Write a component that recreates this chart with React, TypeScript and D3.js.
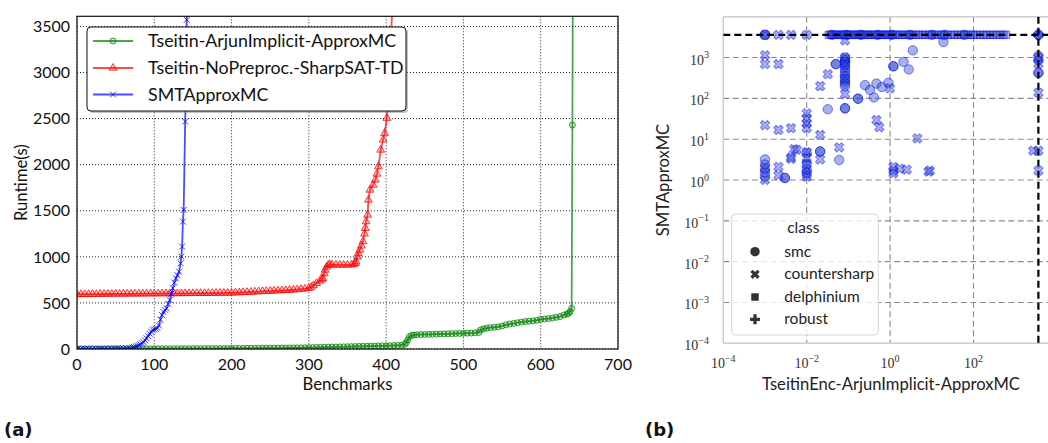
import React from 'react';
import * as d3 from 'd3';

const W = 1048;
const H = 443;
const SANS = "Lato, 'Open Sans', 'DejaVu Sans', sans-serif";
const SERIF = "'Liberation Serif', 'DejaVu Serif', serif";

// ---------- (a) cactus plot: sorted runtimes per benchmark ----------
const seriesNames = [
  'Tseitin-ArjunImplicit-ApproxMC',
  'Tseitin-NoPreproc.-SharpSAT-TD',
  'SMTApproxMC',
];

// [benchmark index, runtime in seconds]
const arjunRuns: [number, number][] = [
  [0, 0.8], [5, 0.9], [10, 1], [15, 1], [20, 1.1], [25, 1.2], [30, 1.3], [35, 1.4], [40, 1.5], [45, 1.6],
  [50, 1.7], [55, 1.8], [60, 1.9], [65, 2], [70, 2.1], [75, 2.2], [80, 2.3], [85, 2.4], [90, 2.5], [95, 2.6],
  [100, 2.7], [105, 2.8], [110, 2.9], [115, 3], [120, 3.1], [125, 3.2], [130, 3.3], [135, 3.4], [140, 3.5],
  [145, 3.6], [150, 3.8], [155, 4], [160, 4.2], [165, 4.4], [170, 4.6], [175, 4.8], [180, 5], [185, 5.2],
  [190, 5.4], [195, 5.6], [200, 5.8], [205, 6], [210, 6.3], [215, 6.6], [220, 7], [225, 7.3], [230, 7.6],
  [235, 8], [240, 8.4], [245, 8.8], [250, 9.2], [255, 9.6], [260, 10], [265, 10.5], [270, 11], [275, 11.5],
  [280, 12], [285, 12.5], [290, 13], [295, 14], [300, 15], [305, 16], [310, 17], [315, 18], [320, 19],
  [325, 20], [330, 21], [335, 22], [340, 23], [345, 24], [350, 25], [355, 26], [360, 27], [365, 28],
  [370, 29], [375, 30], [380, 31], [385, 32], [390, 33], [395, 34], [400, 35], [405, 36], [410, 38],
  [415, 39], [420, 41], [424, 50], [426, 70], [428, 100], [430, 134], [433, 148], [436, 152], [440, 155],
  [445, 157], [450, 158], [455, 159], [460, 160], [465, 162], [470, 163], [475, 164], [480, 165], [485, 166],
  [490, 168], [495, 169], [500, 170], [505, 172], [510, 173], [515, 175], [520, 180], [522, 206], [526, 218],
  [530, 226], [535, 232], [540, 236], [545, 240], [550, 250], [555, 262], [560, 271], [565, 278], [570, 285],
  [575, 292], [580, 298], [585, 302], [590, 305], [595, 312], [600, 322], [605, 326], [610, 330], [615, 337],
  [620, 344], [625, 352], [630, 369], [634, 378], [636, 387], [638, 405], [640, 441], [641, 2430], [642, 5000],
];

const sharpTdRuns: [number, number][] = [
  [0, 592], [5, 593], [10, 594], [15, 594], [20, 595], [25, 595], [30, 596], [35, 596], [40, 597], [45, 597],
  [50, 598], [55, 598], [60, 598], [65, 599], [70, 599], [75, 599], [80, 600], [85, 600], [90, 600], [95, 601],
  [100, 601], [105, 601], [110, 602], [115, 602], [120, 602], [125, 603], [130, 603], [135, 603], [140, 604],
  [145, 604], [150, 604], [155, 605], [160, 605], [165, 605], [170, 606], [175, 606], [180, 607], [185, 607],
  [190, 608], [195, 608], [200, 609], [205, 611], [210, 613], [215, 615], [220, 617], [225, 619], [230, 621],
  [235, 623], [240, 625], [245, 627], [250, 629], [255, 631], [260, 633], [265, 635], [270, 637], [275, 640],
  [280, 643], [285, 646], [290, 650], [295, 654], [300, 659], [303, 672], [306, 690], [310, 713], [314, 738],
  [317, 752], [318, 767], [320, 820], [321, 858], [323, 890], [325, 910], [327, 920], [330, 915], [335, 912],
  [340, 912], [345, 913], [350, 913], [355, 914], [358, 918], [360, 930], [361, 948], [363, 1000], [364, 1040],
  [366, 1075], [368, 1120], [370, 1166], [372, 1250], [373, 1310], [374, 1383], [376, 1455], [377, 1618],
  [379, 1726], [383, 1780], [386, 1835], [388, 1900], [390, 1980], [393, 2160], [396, 2270], [398, 2342],
  [401, 2505], [408, 3700],
];

const smtRuns: [number, number][] = [
  [0, 1], [4, 1], [8, 1.2], [12, 1.4], [16, 1.6], [20, 1.8], [24, 2], [28, 2.2], [32, 2.6], [36, 3],
  [40, 3.4], [44, 3.9], [48, 4.5], [52, 5.2], [56, 6], [60, 7], [64, 8.5], [68, 10], [72, 15], [74, 20],
  [76, 25], [78, 32], [80, 40], [82, 50], [84, 62], [86, 75], [88, 95], [90, 116], [92, 140], [94, 165],
  [96, 188], [98, 205], [100, 212], [102, 220], [104, 228], [106, 255], [108, 320], [110, 370], [112, 400],
  [114, 425], [116, 441], [118, 490], [120, 532], [122, 600], [124, 659], [126, 720], [128, 767], [130, 800],
  [132, 839], [134, 930], [135, 1002], [136, 1111], [137, 1382], [138, 1509], [140, 2468], [142, 3572],
  [143, 5000],
];

const runtimeTicks = [0, 500, 1000, 1500, 2000, 2500, 3000, 3500];
const benchTicks = [0, 100, 200, 300, 400, 500, 600, 700];

// ---------- (b) per-instance scatter, log-log ----------
const TIMEOUT = 3600;

// [TseitinEnc-ArjunImplicit-ApproxMC runtime, SMTApproxMC runtime]
const smcPoints: [number, number][] = [
  [0.001, 3600], [0.001, 3600], [0.001, 3.2], [0.001, 2.4], [0.001, 1.8], [0.001, 1.5], [0.001, 1.2],
  [0.003, 1.12], [0.003, 1.12],
  [0.01, 4.6], [0.01, 2.5], [0.01, 1.8], [0.01, 1.5],
  [0.021, 5.0], [0.021, 5.0],
  [0.032, 54], [0.06, 3.1], [0.05, 690], [0.05, 690],
  [0.083, 1000], [0.083, 870], [0.083, 780], [0.083, 780], [0.083, 650], [0.083, 560], [0.083, 480],
  [0.083, 410], [0.083, 350], [0.083, 300], [0.083, 260], [0.083, 225], [0.083, 200],
  [0.083, 57], [0.083, 57], [0.17, 98], [0.17, 98],
  [0.25, 210], [0.33, 160], [0.41, 105], [0.47, 230], [0.63, 190], [0.91, 240],
  [1.2, 610], [1.2, 610], [2.1, 780], [2.8, 510], [3.5, 1500], [19, 2400],
  [0.04, 3600], [0.09, 3600], [0.2, 3600], [0.5, 3600], [1.1, 3600], [3, 3600], [10, 3600], [20, 3600],
  [60, 3600],
  [3600, 3600], [3600, 3600], [3600, 1100], [3600, 850], [3600, 420], [3600, 420],
];

const countersharpPoints: [number, number][] = [
  [0.001, 3600], [0.001, 1137], [0.001, 690], [0.001, 22], [0.001, 2.0], [0.001, 1.0],
  [0.0021, 3600], [0.0021, 690], [0.0021, 16.8], [0.0021, 2.1], [0.0021, 1.3],
  [0.0042, 3600], [0.0042, 18.6], [0.0042, 3.6], [0.0042, 3.3], [0.005, 5.7], [0.0058, 5.5],
  [0.01, 3600], [0.01, 43], [0.01, 32], [0.01, 24.5], [0.01, 18.6], [0.01, 4.8], [0.01, 3.5], [0.01, 2.4],
  [0.01, 1.4], [0.01, 1.2],
  [0.021, 200], [0.021, 12.7], [0.021, 3.2], [0.032, 390], [0.06, 6.3],
  [0.083, 2640], [0.083, 127], [0.083, 1000], [0.083, 700], [0.083, 300],
  [0.47, 29.5], [0.55, 19.6], [0.99, 175], [4.5, 10.5],
  [1.2, 2.1], [1.2, 1.45], [1.2, 1.7], [1.7, 1.9], [2.5, 1.8], [8.3, 1.6], [9, 1.7],
  [2700, 5.2], [3600, 5.2], [3600, 1.7], [3600, 137], [3600, 1000], [3600, 700],
];

const delphiniumRuntimes = [
  0.034, 0.038, 0.042, 0.047, 0.052, 0.058, 0.064, 0.07, 0.078, 0.086, 0.095, 0.105, 0.115, 0.13, 0.145,
  0.16, 0.18, 0.2, 0.22, 0.25, 0.28, 0.31, 0.35, 0.39, 0.44, 0.5, 0.56, 0.63, 0.7, 0.8, 0.9, 1.0, 1.15,
  1.3, 1.5, 1.7, 2.0, 2.3, 2.7, 3.1, 3.6, 4.2, 5, 6, 7, 8.5, 10, 12, 14, 17, 20, 24, 29, 35, 42, 50, 60,
  72, 86, 100, 120, 145, 175, 210, 250, 300, 360, 430, 520, 600,
];
const delphiniumPoints: [number, number][] = delphiniumRuntimes.map((r) => [r, TIMEOUT]);

const robustPoints: [number, number][] = [[3600, 3600]];

const classNames = ['smc', 'countersharp', 'delphinium', 'robust'];
const yDecades = [-4, -3, -2, -1, 0, 1, 2, 3];
const xDecades = [-4, -2, 0, 2];

// ---------- marker shapes ----------
const circleSmall = d3.symbol(d3.symbolCircle, 28)() as string;
const triangleSmall = d3.symbol(d3.symbolTriangle, 26)() as string;
const xSmall = 'M-3,-3L3,3M-3,3L3,-3';

const circleBig = d3.symbol(d3.symbolCircle, 70)() as string;
const crossBig = d3.symbol(d3.symbolCross, 54)() as string;
const squareBig = d3.symbol(d3.symbolSquare, 56)() as string;

type Series = { name: string; data: [number, number][]; color: string; marker: string; stroked: boolean };

function CactusPanel() {
  const left = 77, right = 618, top = 16.3, bottom = 349;
  const x = d3.scaleLinear().domain([0, 700]).range([left, right]);
  const y = d3.scaleLinear().domain([0, 3610]).range([bottom, top]);
  const line = d3.line<[number, number]>().x((d) => x(d[0])).y((d) => y(d[1]));

  const series: Series[] = [
    { name: seriesNames[0], data: arjunRuns, color: 'rgb(0,128,0)', marker: circleSmall, stroked: false },
    { name: seriesNames[1], data: sharpTdRuns, color: 'rgb(255,0,0)', marker: triangleSmall, stroked: false },
    { name: seriesNames[2], data: smtRuns, color: 'rgb(0,0,255)', marker: xSmall, stroked: true },
  ];

  const legendX = 87, legendY = 27, legendW = 319, legendH = 84;
  const rowY = [41, 68, 94.5];

  const markerProps = (s: Series) => ({
    fill: s.stroked ? 'none' : s.color,
    fillOpacity: 0.18,
    stroke: s.color,
    strokeOpacity: 0.75,
    strokeWidth: 1,
  });

  return (
    <g>
      <defs>
        <clipPath id="cactus-clip">
          <rect x={left} y={top} width={right - left} height={bottom - top} />
        </clipPath>
      </defs>
      {/* dotted grid */}
      {benchTicks.map((t) => (
        <line key={'gx' + t} x1={x(t)} x2={x(t)} y1={top} y2={bottom} stroke="#222" strokeWidth={1} strokeDasharray="1,2" />
      ))}
      {runtimeTicks.map((t) => (
        <line key={'gy' + t} x1={left} x2={right} y1={y(t)} y2={y(t)} stroke="#222" strokeWidth={1} strokeDasharray="1,2" />
      ))}
      <g clipPath="url(#cactus-clip)">
        {series.map((s) => (
          <g key={s.name}>
            <path d={line(s.data) as string} fill="none" stroke={s.color} strokeOpacity={0.7} strokeWidth={1.8} />
            {s.data.map((d, i) => (
              <path key={i} transform={`translate(${x(d[0])},${y(d[1])})`} d={s.marker} {...markerProps(s)} />
            ))}
          </g>
        ))}
      </g>
      {/* frame */}
      <rect x={left} y={top} width={right - left} height={bottom - top} fill="none" stroke="#111" strokeWidth={1.2} />
      {/* tick labels */}
      {runtimeTicks.map((t) => (
        <text key={'ty' + t} x={70} y={y(t) + 5.7} textAnchor="end" fontFamily={SANS} fontSize={16} fill="#111">
          {t}
        </text>
      ))}
      {benchTicks.map((t) => (
        <text key={'tx' + t} x={x(t)} y={370} textAnchor="middle" fontFamily={SANS} fontSize={16} fill="#111">
          {t}
        </text>
      ))}
      <text x={(left + right) / 2} y={390} textAnchor="middle" fontFamily={SANS} fontSize={16.7} fill="#111">
        Benchmarks
      </text>
      <text
        transform={`translate(21,${(top + bottom) / 2}) rotate(-90)`}
        textAnchor="middle"
        dominantBaseline="central"
        fontFamily={SANS}
        fontSize={16.7}
        fill="#111"
      >
        Runtime(s)
      </text>
      {/* legend */}
      <rect x={legendX + 2} y={legendY + 2} width={legendW} height={legendH} rx={4} fill="#888" fillOpacity={0.5} />
      <rect x={legendX} y={legendY} width={legendW} height={legendH} rx={4} fill="#fff" stroke="#111" strokeWidth={1} />
      {series.map((s, i) => (
        <g key={'lg' + s.name}>
          <line x1={93} x2={133} y1={rowY[i]} y2={rowY[i]} stroke={s.color} strokeOpacity={0.7} strokeWidth={1.8} />
          <path transform={`translate(113,${rowY[i]})`} d={s.marker} {...markerProps(s)} />
          <text x={148} y={rowY[i] + 6} fontFamily={SANS} fontSize={17.8} fill="#111">
            {s.name}
          </text>
        </g>
      ))}
    </g>
  );
}

function Pow10({ k }: { k: number }) {
  return (
    <>
      10
      <tspan dy={-6.5} fontSize={10}>
        {k < 0 ? '\u2212' + Math.abs(k) : String(k)}
      </tspan>
    </>
  );
}

function ScatterPanel() {
  const left = 723.3, top = 16.7, bottom = 343.3;
  const decade = 41.7;
  const right = left + 8 * decade;
  const x = d3.scaleLog().domain([1e-4, 1e4]).range([left, right]);
  const y = d3.scaleLog().domain([1e-4, 1e4]).range([bottom, top]);

  const fill = 'rgb(40,70,200)';
  const mark = (shape: string, rotate: number) => (d: [number, number], i: number) => (
    <path
      key={i}
      transform={`translate(${x(d[0])},${y(d[1])}) rotate(${rotate})`}
      d={shape}
      fill={fill}
      fillOpacity={0.42}
      stroke="blue"
      strokeOpacity={0.45}
      strokeWidth={1}
    />
  );

  const legendMarks = [
    { shape: circleBig, rotate: 0 },
    { shape: crossBig, rotate: 45 },
    { shape: squareBig, rotate: 0 },
    { shape: crossBig, rotate: 0 },
  ];
  const lgRows = [251.7, 274.3, 297, 319.3];

  return (
    <g>
      <defs>
        <clipPath id="scatter-clip">
          <rect x={left} y={top} width={right - left} height={bottom - top} />
        </clipPath>
      </defs>
      {/* grid */}
      {yDecades.slice(1).map((k) => (
        <line key={'gy' + k} x1={left} x2={right} y1={y(10 ** k)} y2={y(10 ** k)} stroke="#8a8a8a" strokeWidth={1.1} strokeDasharray="6,3.5" />
      ))}
      {xDecades.slice(1).map((k) => (
        <line key={'gx' + k} x1={x(10 ** k)} x2={x(10 ** k)} y1={top} y2={bottom} stroke="#8a8a8a" strokeWidth={1.1} strokeDasharray="6,3.5" />
      ))}
      {/* frame */}
      <line x1={left} x2={right} y1={top} y2={top} stroke="#cccccc" strokeWidth={1.5} />
      <line x1={left} x2={right} y1={bottom} y2={bottom} stroke="#cccccc" strokeWidth={1.5} />
      <line x1={left} x2={left} y1={top} y2={bottom} stroke="#cccccc" strokeWidth={1.5} />
      <g clipPath="url(#scatter-clip)">
        {smcPoints.map(mark(circleBig, 0))}
        {countersharpPoints.map(mark(crossBig, 45))}
        {delphiniumPoints.map(mark(squareBig, 0))}
        {robustPoints.map(mark(crossBig, 0))}
        {/* timeout markers */}
        <line x1={left} x2={right} y1={y(TIMEOUT)} y2={y(TIMEOUT)} stroke="#000" strokeWidth={2.2} strokeDasharray="7,4" />
        <line x1={x(TIMEOUT)} x2={x(TIMEOUT)} y1={top} y2={bottom} stroke="#000" strokeWidth={2.2} strokeDasharray="7,4" />
      </g>
      {/* tick labels */}
      {yDecades.map((k) => (
        <text key={'ty' + k} x={709} y={y(10 ** k) + 7} textAnchor="end" fontFamily={SERIF} fontSize={14} fill="#333">
          <Pow10 k={k} />
        </text>
      ))}
      {xDecades.map((k) => (
        <text key={'tx' + k} x={x(10 ** k)} y={368} textAnchor="middle" fontFamily={SERIF} fontSize={14} fill="#333">
          <Pow10 k={k} />
        </text>
      ))}
      <text x={891} y={390} textAnchor="middle" fontFamily={SANS} fontSize={16.6} fill="#222">
        TseitinEnc-ArjunImplicit-ApproxMC
      </text>
      <text
        transform={`translate(662.5,${(top + bottom) / 2}) rotate(-90)`}
        textAnchor="middle"
        dominantBaseline="central"
        fontFamily={SANS}
        fontSize={16.6}
        fill="#222"
      >
        SMTApproxMC
      </text>
      {/* legend */}
      <rect x={731.7} y={214} width={146.6} height={121} rx={4} fill="#fff" fillOpacity={0.8} stroke="#d6d6d6" strokeWidth={1} />
      <text x={803.3} y={233} textAnchor="middle" fontFamily={SANS} fontSize={15.5} fill="#222">
        class
      </text>
      {classNames.map((c, i) => (
        <g key={c}>
          <path
            transform={`translate(755,${lgRows[i]}) rotate(${legendMarks[i].rotate})`}
            d={legendMarks[i].shape}
            fill="#333"
          />
          <text x={784.3} y={lgRows[i] + 5} fontFamily={SANS} fontSize={15.5} fill="#222">
            {c}
          </text>
        </g>
      ))}
    </g>
  );
}

export default function App() {
  return (
    <svg
      width={W}
      height={H}
      viewBox={`0 0 ${W} ${H}`}
      style={{ position: 'absolute', left: 0, top: 0, background: '#fff' }}
    >
      <rect x={0} y={0} width={W} height={H} fill="#fff" />
      <CactusPanel />
      <ScatterPanel />
      <text x={4} y={436} fontFamily="'DejaVu Sans', sans-serif" fontWeight="bold" fontSize={18} fill="#111">
        (a)
      </text>
      <text x={645} y={436} fontFamily="'DejaVu Sans', sans-serif" fontWeight="bold" fontSize={18} fill="#111">
        (b)
      </text>
    </svg>
  );
}
